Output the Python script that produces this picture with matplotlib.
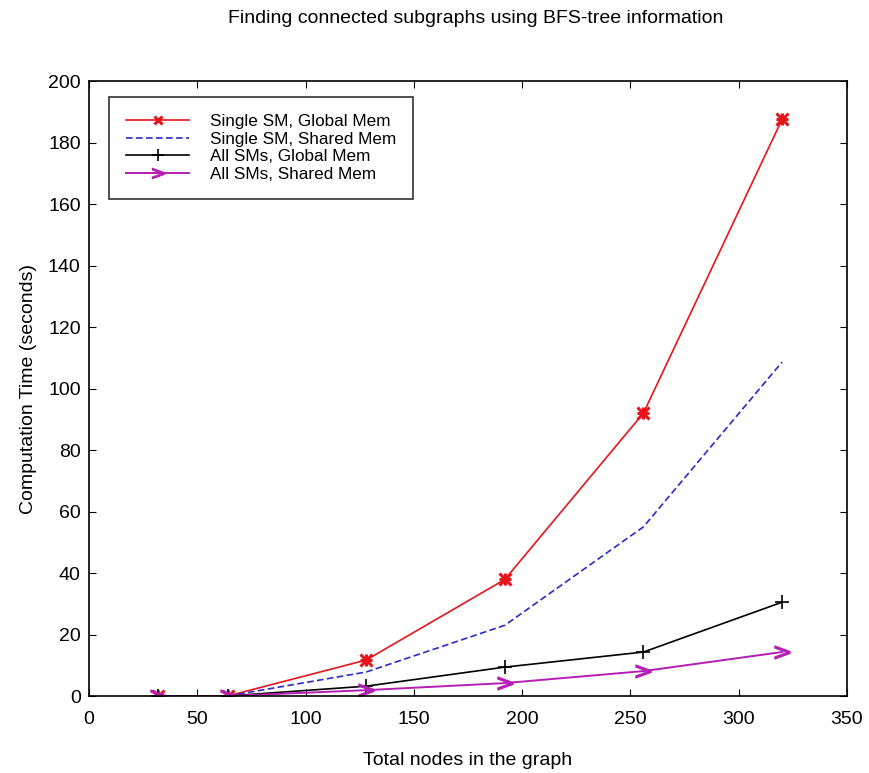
import numpy as np
import matplotlib
matplotlib.use("Agg")
import matplotlib.pyplot as plt

plt.rcParams['font.family'] = ['Liberation Sans', 'DejaVu Sans']

nodes = [32, 64, 128, 192, 256, 320]
single_global = [0, 0, 11.7, 37.9, 92.0, 187.5]
single_shared = [0, 0, 7.8, 23.0, 55.0, 108.6]
all_global = [0, 0, 3.2, 9.4, 14.3, 30.5]
all_shared = [0, 0, 1.9, 4.2, 8.1, 14.3]

fig = plt.figure(figsize=(8.69, 7.73), dpi=100)
ax = fig.add_axes([0.1024, 0.0996, 0.8723, 0.7956])

ax.plot(nodes, single_global, color='#e8141c', lw=1.2, marker='x', ms=8, mew=2.2,
        label='Single SM, Global Mem')
ax.plot(nodes, single_global, color='#e8141c', lw=0, marker='+', ms=9, mew=2.2)
ax.plot(nodes, single_shared, color='#2a2ac8', lw=1.2, ls=(0, (4, 2)),
        label='Single SM, Shared Mem')
ax.plot(nodes, all_global, color='black', lw=1.2, marker='+', ms=10, mew=1.2,
        label='All SMs, Global Mem')
ax.plot(nodes, all_shared, color='#b41eb4', lw=1.4, marker=r'$>$', ms=11, mew=0.8,
        label='All SMs, Shared Mem')

ax.set_xlim(0, 350)
ax.set_ylim(0, 200)
ax.set_xticks(np.arange(0, 351, 50))
ax.set_yticks(np.arange(0, 201, 20))
ax.tick_params(direction='in', top=True, right=True, length=5, labelsize=14)
ax.tick_params(axis='x', pad=11)
ax.tick_params(axis='y', pad=6)
for s in ax.spines.values():
    s.set_linewidth(1.2)

ax.set_xlabel('Total nodes in the graph', fontsize=14, labelpad=17)
ax.set_ylabel('Computation Time (seconds)', fontsize=14, labelpad=8)
fig.text(0.547, 0.976, 'Finding connected subgraphs using BFS-tree information',
         ha='center', va='center', fontsize=14)

leg = ax.legend(loc='upper left', bbox_to_anchor=(0.0264, 0.974), fontsize=12.3,
                frameon=True, fancybox=False, handlelength=3.7, handletextpad=1.2,
                borderpad=1.0, labelspacing=0.15, borderaxespad=0, markerscale=0.8)
leg.get_frame().set_edgecolor('black')
leg.get_frame().set_linewidth(1.2)

fig.savefig('out.png', dpi=100)
